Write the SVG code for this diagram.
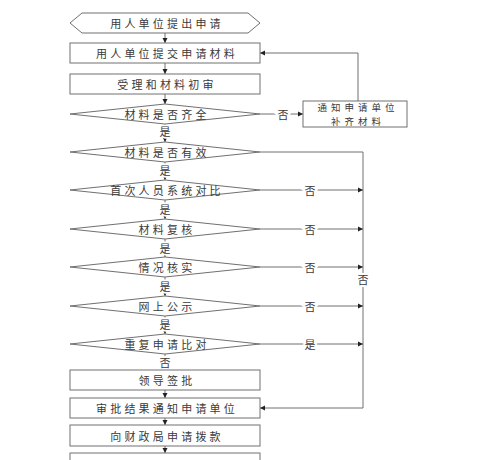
<svg xmlns="http://www.w3.org/2000/svg" width="490" height="460" viewBox="0 0 490 460">
<style>
.n{fill:#fff;stroke:#707070;stroke-width:1}
.t{font-family:"Noto Sans CJK SC","Noto Sans",sans-serif;font-size:11px;fill:#3a3a3a;letter-spacing:3.2px;text-anchor:middle;dominant-baseline:central}
.s{font-size:9.5px;letter-spacing:4px}
.l{font-family:"Noto Sans CJK SC","Noto Sans",sans-serif;font-size:11px;fill:#3a3a3a;text-anchor:middle;dominant-baseline:central;stroke:#fff;stroke-width:4px;paint-order:stroke}
.c{fill:none;stroke:#707070;stroke-width:1}
</style>
<defs>
<marker id="a" markerWidth="6" markerHeight="6" refX="5" refY="3" orient="auto" markerUnits="userSpaceOnUse">
<path d="M0,0.5 L5,3 L0,5.5 Z" fill="#222"/>
</marker>
</defs>
<rect width="490" height="460" fill="#fff"/>
<g id="connectors">
<path class="c" d="M165,33V43" marker-end="url(#a)"/>
<path class="c" d="M165,63V74" marker-end="url(#a)"/>
<path class="c" d="M165,94V104" marker-end="url(#a)"/>
<path class="c" d="M165,124V142" marker-end="url(#a)"/>
<path class="c" d="M165,162V180" marker-end="url(#a)"/>
<path class="c" d="M165,200V219" marker-end="url(#a)"/>
<path class="c" d="M165,239V257" marker-end="url(#a)"/>
<path class="c" d="M165,277V296" marker-end="url(#a)"/>
<path class="c" d="M165,316V334" marker-end="url(#a)"/>
<path class="c" d="M165,354V370" marker-end="url(#a)"/>
<path class="c" d="M165,390V398" marker-end="url(#a)"/>
<path class="c" d="M165,418V425" marker-end="url(#a)"/>
<path class="c" d="M165,446V453" marker-end="url(#a)"/>
<path class="c" d="M260,114H303" marker-end="url(#a)"/>
<path class="c" d="M358,102V53H260" marker-end="url(#a)"/>
<path class="c" d="M260,152H363V408H260" marker-end="url(#a)"/>
<path class="c" d="M260,190H363" marker-end="url(#a)"/>
<path class="c" d="M260,229H363" marker-end="url(#a)"/>
<path class="c" d="M260,267H363" marker-end="url(#a)"/>
<path class="c" d="M260,306H363" marker-end="url(#a)"/>
<path class="c" d="M260,344H363" marker-end="url(#a)"/>
<text class="l" x="165" y="131">是</text>
<text class="l" x="165" y="170">是</text>
<text class="l" x="165" y="209">是</text>
<text class="l" x="165" y="248">是</text>
<text class="l" x="165" y="286">是</text>
<text class="l" x="165" y="324">是</text>
<text class="l" x="165" y="362">否</text>
<text class="l" x="283" y="114">否</text>
<text class="l" x="310" y="190">否</text>
<text class="l" x="310" y="229">否</text>
<text class="l" x="310" y="267">否</text>
<text class="l" x="310" y="306">否</text>
<text class="l" x="310" y="344">是</text>
<text class="l" x="363" y="279">否</text>
</g>
<g id="n1"><polygon class="n" points="70,23 82,13 248,13 260,23 248,33 82,33"/><text class="t" x="167" y="23">用人单位提出申请</text></g>
<g id="n2"><rect class="n" x="70" y="43" width="190" height="20"/><text class="t" x="167" y="53">用人单位提交申请材料</text></g>
<g id="n3"><rect class="n" x="70" y="74" width="190" height="20"/><text class="t" x="167" y="84">受理和材料初审</text></g>
<g id="d1"><polygon class="n" points="70,114 165,104 260,114 165,124"/><text class="t" x="167" y="114">材料是否齐全</text></g>
<g id="n4"><rect class="n" x="303" y="101" width="104" height="26"/><text class="t s" x="358" y="107">通知申请单位</text><text class="t s" x="358" y="121">补齐材料</text></g>
<g id="d2"><polygon class="n" points="70,152 165,142 260,152 165,162"/><text class="t" x="167" y="152">材料是否有效</text></g>
<g id="d3"><polygon class="n" points="70,190 165,180 260,190 165,200"/><text class="t" x="167" y="190">首次人员系统对比</text></g>
<g id="d4"><polygon class="n" points="70,229 165,219 260,229 165,239"/><text class="t" x="167" y="229">材料复核</text></g>
<g id="d5"><polygon class="n" points="70,267 165,257 260,267 165,277"/><text class="t" x="167" y="267">情况核实</text></g>
<g id="d6"><polygon class="n" points="70,306 165,296 260,306 165,316"/><text class="t" x="167" y="306">网上公示</text></g>
<g id="d7"><polygon class="n" points="70,344 165,334 260,344 165,354"/><text class="t" x="167" y="344">重复申请比对</text></g>
<g id="n5"><rect class="n" x="70" y="370" width="190" height="20"/><text class="t" x="167" y="380">领导签批</text></g>
<g id="n6"><rect class="n" x="70" y="398" width="190" height="20"/><text class="t" x="167" y="408">审批结果通知申请单位</text></g>
<g id="n7"><rect class="n" x="70" y="425" width="190" height="21"/><text class="t" x="167" y="435.5">向财政局申请拨款</text></g>
<g id="n8"><rect class="n" x="70" y="453" width="190" height="20"/></g>
</svg>
